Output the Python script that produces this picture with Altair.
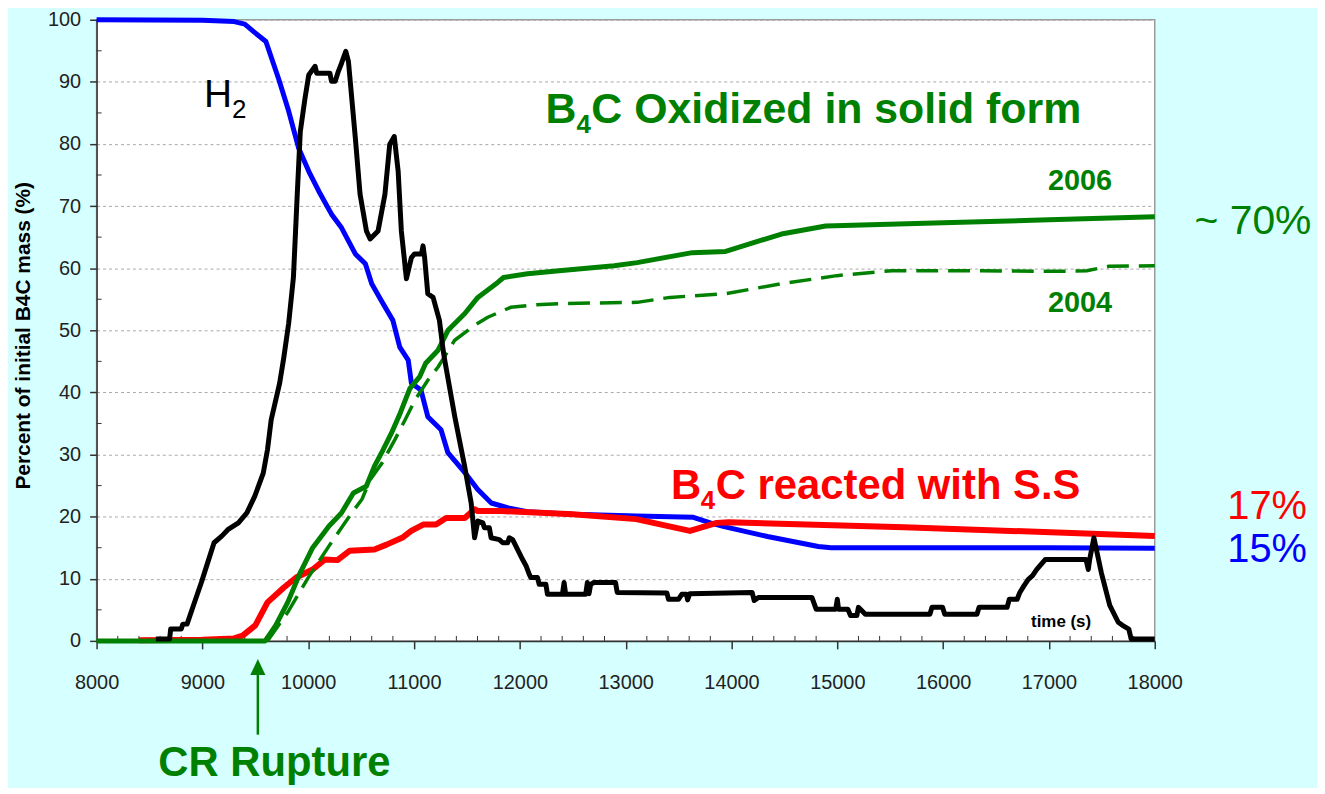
import altair as alt
import pandas as pd

# ---------------- data ----------------
blue_t = [8000, 9000, 9300, 9400, 9490, 9600, 9720, 9815, 9910, 10005, 10100, 10220, 10315,
          10445, 10540, 10600, 10690, 10800, 10865, 10945, 10975, 11065, 11130, 11255, 11320,
          11480, 11600, 11730, 11890, 12070, 12500, 13100, 13640, 13800, 13930, 14340, 14820,
          14940, 16000, 17000, 18000]
blue_v = [100, 99.9, 99.7, 99.3, 98, 96.5, 90.5, 85.3, 79.3, 75.6, 72.4, 68.7, 66.5,
          62.3, 60.7, 57.5, 54.8, 51.6, 47.3, 45.2, 41.5, 40.4, 36.1, 34.0, 30.3,
          27.1, 24.4, 22.2, 21.4, 20.8, 20.4, 20.1, 19.9, 19.0, 18.4, 16.8, 15.2,
          15.0, 15.0, 15.0, 14.9]

red_t = [8400, 9000, 9300, 9380, 9500, 9615, 9770, 9886, 10042, 10158, 10276, 10390, 10625,
         10741, 10897, 10973, 11091, 11208, 11303, 11480, 11572, 11603, 11829, 12500, 13100,
         13607, 13861, 13973, 15629, 18000]
red_v = [0.1, 0.2, 0.4, 0.85, 2.5, 6.2, 8.6, 10.2, 11.5, 13.1, 13.0, 14.5, 14.7,
         15.5, 16.7, 17.7, 18.75, 18.75, 19.8, 19.8, 21.2, 20.9, 20.9, 20.4, 19.6,
         17.7, 19.0, 19.1, 18.3, 16.9]

g2006_t = [8000, 9594, 9693, 9806, 9925, 10042, 10197, 10314, 10427, 10549, 10625, 10700,
           10785, 10870, 10960, 11052, 11110, 11227, 11321, 11480, 11603, 11791, 11846,
           12073, 12370, 12892, 13108, 13630, 13945, 14472, 14890, 16000, 17000, 18000]
g2006_v = [0, 0, 2.5, 6.2, 11, 15, 18.5, 20.6, 23.8, 24.9, 28.1, 30.5,
           33.4, 36.7, 40.6, 42.5, 44.7, 46.8, 50.0, 52.7, 55.3, 57.7, 58.5,
           59.1, 59.6, 60.4, 60.9, 62.5, 62.7, 65.5, 66.8, 67.3, 67.8, 68.3]

g2004_t = [9615, 9806, 10004, 10197, 10390, 10508, 10587, 10700, 10819, 10916, 11010, 11132,
           11227, 11384, 11572, 11697, 11913, 12136, 12370, 13108, 13418, 13945, 14472,
           14995, 15516, 16043, 17097, 17357, 17567, 18000]
g2004_v = [0, 4.6, 10.3, 15.3, 20.1, 22.8, 26.0, 28.7, 32.4, 35.6, 38.8, 42.0,
           44.1, 48.4, 50.8, 52.1, 53.7, 54.1, 54.3, 54.5, 55.3, 55.9, 57.5,
           58.8, 59.6, 59.6, 59.5, 59.6, 60.3, 60.4]

h2_t = [8560, 8690, 8700, 8800, 8815, 8855, 8915, 8990, 9050, 9110, 9185, 9240, 9340, 9420,
        9495, 9575, 9615, 9650, 9730, 9770, 9815, 9860, 9895, 9925, 9970, 10005, 10065,
        10080, 10205, 10220, 10255, 10285, 10315, 10355, 10380, 10445, 10490, 10550, 10585,
        10660, 10725, 10770, 10813, 10850, 10880, 10928, 10975, 11005, 11070, 11085, 11100,
        11130, 11180, 11240, 11275, 11290, 11385, 11478, 11540, 11572, 11603, 11650, 11665,
        11712, 11728, 11806, 11838, 11885, 11900, 11932, 11979, 12026, 12058, 12089, 12104,
        12167, 12183, 12246, 12261, 12402, 12418, 12433, 12622, 12638, 12654, 12669, 12700,
        12904, 12920, 13390, 13405, 13499, 13530, 13575, 13585, 13605, 14195, 14215, 14255,
        14760, 14800, 14985, 15000, 15012, 15100, 15125, 15185, 15200, 15265, 15875, 15895,
        15995, 16015, 16320, 16340, 16605, 16625, 16700, 16725, 16765, 16805, 16845, 16885,
        16965, 17350, 17372, 17385, 17425, 17495, 17575, 17655, 17695, 17755, 17777, 18000]
h2_v = [0.3, 0.3, 1.9, 1.9, 2.7, 2.7, 5.7, 9.4, 12.6, 15.8, 16.9, 17.9, 19.0, 20.6,
        23.3, 27.0, 30.8, 35.6, 41.5, 45.7, 51.1, 58.5, 71.4, 82.0, 87.4, 91.1, 92.5,
        91.4, 91.4, 90.1, 90.1, 91.7, 93.0, 94.9, 93.3, 81.0, 71.9, 66.0, 64.7,
        66.0, 71.9, 79.9, 81.2, 75.6, 66.0, 58.3, 61.7, 62.3, 62.3, 63.6, 61.7,
        55.9, 55.3, 51.6, 46.8, 45.2, 36.1, 28.1, 22.2, 16.6, 19.3, 19.0, 18.2,
        18.2, 16.6, 16.3, 15.8, 15.8, 16.6, 16.3, 14.7, 13.1, 12.1, 10.7, 10.2,
        10.2, 9.1, 9.1, 7.5, 7.5, 9.4, 7.5, 7.5, 9.4, 7.6, 9.1, 9.4,
        9.4, 7.8, 7.7, 6.7, 6.7, 7.5, 7.5, 6.6, 7.6, 7.8, 6.5, 7.0,
        7.0, 5.1, 5.1, 6.7, 5.1, 5.1, 4.1, 4.1, 5.4, 4.3, 4.3, 5.4,
        5.4, 4.3, 4.3, 5.4, 5.4, 6.7, 6.7, 7.8, 8.9, 9.9, 10.5, 11.5,
        13.1, 13.1, 11.5, 13.1, 16.6, 11.0, 5.7, 3.0, 2.5, 1.9, 0.3, 0.3]

x_major = [8000, 9000, 10000, 11000, 12000, 13000, 14000, 15000, 16000, 17000, 18000]
y_major = [0, 10, 20, 30, 40, 50, 60, 70, 80, 90, 100]
x_minor = [v for v in range(8200, 18000, 200) if v % 1000 != 0]
y_minor = [5, 15, 25, 35, 45, 55, 65, 75, 85, 95]

GREEN = "#008000"
SANS = "Liberation Sans"

# ---------------- scales / axes ----------------
xs = alt.Scale(domain=[8000, 18000], nice=False, zero=False)
ys = alt.Scale(domain=[0, 100], nice=False, zero=False)

x_axis = alt.Axis(values=x_major, format="d", tickSize=8, tickColor="#333", tickWidth=1.5,
                  domainColor="#333", domainWidth=1.5, labelFont=SANS,
                  labelFontSize=20, labelColor="#222", labelPadding=24, grid=False,
                  labelFlush=False)
y_axis = alt.Axis(values=y_major, tickSize=7, tickColor="#333", tickWidth=1.5,
                  domainColor="#333", domainWidth=1.5, labelFont=SANS,
                  labelFontSize=20, labelColor="#222", labelPadding=9,
                  grid=True, gridColor="#a8a8a8", gridDash=[3, 3], gridWidth=1,
                  title="Percent of initial B4C mass (%)", titleFont=SANS,
                  titleFontSize=21, titleFontWeight="bold", titleColor="#000",
                  titleX=-73, titleY=317, titleBaseline="middle", titleAngle=270)

X = alt.X("t:Q", scale=xs, axis=x_axis, title=None)
Y = alt.Y("v:Q", scale=ys, axis=y_axis, title="Percent of initial B4C mass (%)")


def sdf(t, v):
    return pd.DataFrame({"t": t, "v": v, "i": list(range(len(t)))})


def line(t, v, color, width, dash=None):
    kw = dict(color=color, strokeWidth=width, strokeJoin="round", strokeCap="butt")
    if dash:
        kw["strokeDash"] = dash
    return alt.Chart(sdf(t, v)).mark_line(**kw).encode(x=X, y=Y, order="i:Q")


def text(label, t, v, size, color, bold=False, align="left", dx=0, dy=0, font=SANS):
    df = pd.DataFrame({"t": [t], "v": [v], "label": [label]})
    kw = dict(align=align, baseline="alphabetic", font=font, fontSize=size,
              fontWeight="bold" if bold else "normal", color=color)
    if dx:
        kw["dx"] = dx
    if dy:
        kw["dy"] = dy
    return alt.Chart(df).mark_text(**kw).encode(x=X, y=Y, text="label:N")


# minor ticks (inside the plot, as in the reference)
xminor_df = pd.DataFrame({"t": x_minor, "v": [0] * len(x_minor), "v2": [0.8] * len(x_minor)})
yminor_df = pd.DataFrame({"t": [8000] * len(y_minor), "t2": [8047] * len(y_minor), "v": y_minor})
xminor = alt.Chart(xminor_df).mark_rule(color="#333", strokeWidth=1).encode(x=X, y=Y, y2="v2:Q")
yminor = alt.Chart(yminor_df).mark_rule(color="#333", strokeWidth=1).encode(x=X, x2="t2:Q", y=Y)

# arrow for CR rupture
arrow_df = pd.DataFrame({"t": [9524], "v": [-4.2], "v2": [-15.1]})
arrow_shaft = alt.Chart(arrow_df).mark_rule(color=GREEN, strokeWidth=2.5).encode(x=X, y=Y, y2="v2:Q")
arrow_head = alt.Chart(arrow_df).mark_point(shape="M0,-1L-0.95,1L0.95,1Z", size=256, filled=True,
                                            color=GREEN, opacity=1).encode(x=X, y=Y)

layers = [
    xminor, yminor,
    line(blue_t, blue_v, "#0000ff", 5),
    line(red_t, red_v, "#ff0000", 6),
    line(g2004_t, g2004_v, GREEN, 3.5, [22, 10]),
    line(g2006_t, g2006_v, GREEN, 5),
    line(h2_t, h2_v, "#000000", 5),
    # annotations
    text("H", 9016, 85.9, 39, "#000"),
    text("2", 9016, 85.9, 26, "#000", dx=28, dy=11),
    text("B", 12243, 83.3, 43, GREEN, bold=True),
    text("4", 12243, 83.3, 26, GREEN, bold=True, dx=31, dy=10),
    text("C Oxidized in solid form", 12243, 83.3, 43, GREEN, bold=True, dx=46),
    text("2006", 17294, 72.6, 29, GREEN, bold=True, align="center"),
    text("2004", 17294, 53.0, 29, GREEN, bold=True, align="center"),
    text("B", 13428, 22.8, 42, "#ff0000", bold=True),
    text("4", 13428, 22.8, 26, "#ff0000", bold=True, dx=30, dy=10),
    text("C reacted with S.S", 13428, 22.8, 42, "#ff0000", bold=True, dx=45),
    text("~ 70%", 18376, 65.5, 41, GREEN),
    text("17%", 18686, 19.6, 40, "#ff0000"),
    text("15%", 18686, 12.7, 40, "#0000ff"),
    text("CR Rupture", 8583, -21.8, 42, GREEN, bold=True),
    text("time (s)", 17115, 2.24, 17, "#000", bold=True, align="center"),
    arrow_shaft, arrow_head,
]

chart = alt.layer(*layers).properties(
    width=1063, height=624,
    autosize=alt.AutoSizeParams(type="none"),
    padding={"left": 89, "top": 10, "right": 163, "bottom": 146},
    background="#d6ffff",
).configure_view(fill="white", stroke="#9a9a9a", strokeWidth=1.5)

chart.save("out.html", embed_options={"renderer": "svg", "actions": False})
